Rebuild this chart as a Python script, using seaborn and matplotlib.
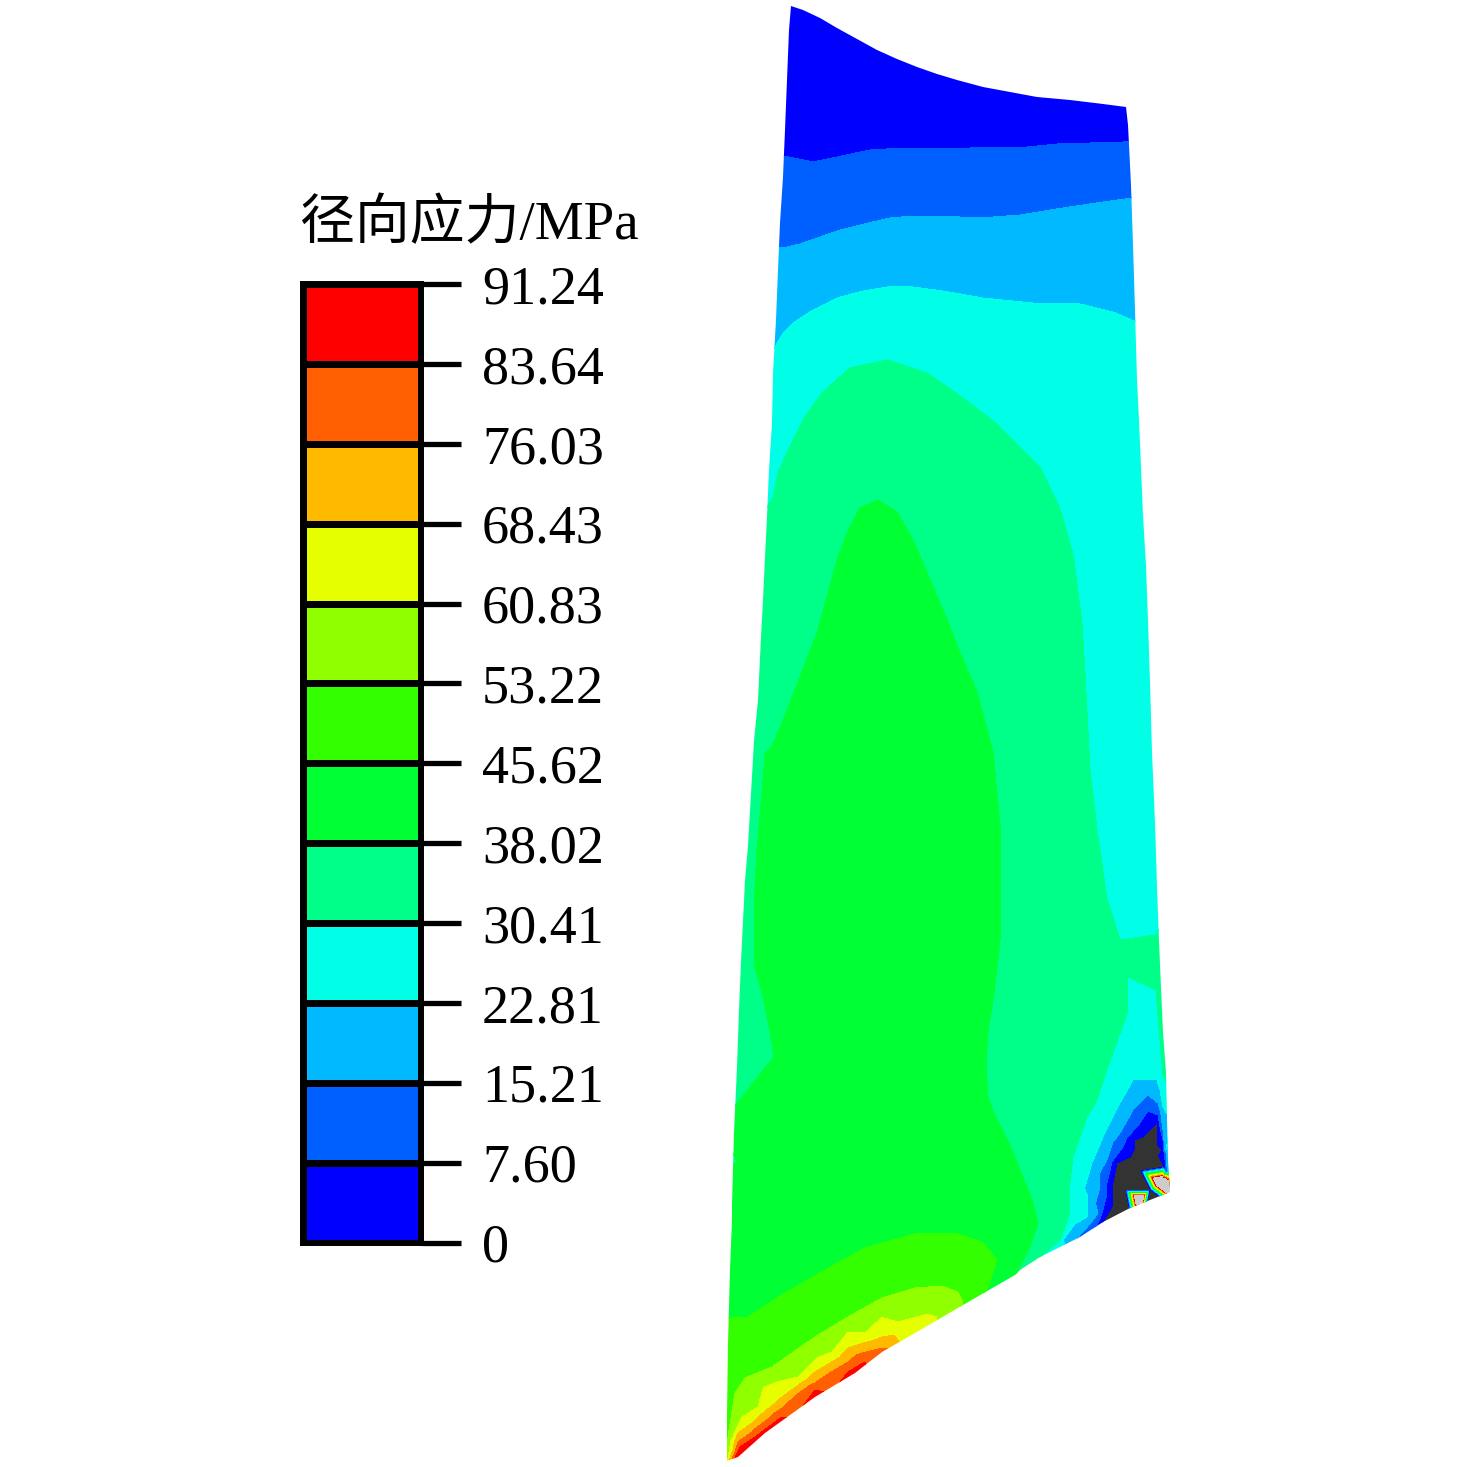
import numpy as np
import pandas as pd
import matplotlib
matplotlib.use("Agg")
import matplotlib.pyplot as plt
from matplotlib.colors import ListedColormap
from matplotlib.patches import Polygon
import seaborn as sns

sns.set_theme(style="white")

# legend
tick_labels = ['91.24', '83.64', '76.03', '68.43', '60.83', '53.22', '45.62',
               '38.02', '30.41', '22.81', '15.21', '7.60', '0']
levels = [0, 7.60, 15.21, 22.81, 30.41, 38.02, 45.62, 53.22, 60.83, 68.43, 76.03, 83.64, 91.24]
band_colors = ['#0000FF', '#005FFF', '#00B9FF', '#00FFE6', '#00FF88', '#00FF33',
               '#33FF00', '#90FF00', '#E6FF00', '#FFBA00', '#FF5F00', '#FF0000']
under_color = '#333333'
over_color = '#CCCCCC'

# blade outline, in picture coordinates
edge_x = [791, 803, 820, 837, 857, 877, 897, 917, 937, 957, 983, 1010, 1037, 1070, 1103, 1126,
          1128, 1131, 1133, 1135, 1137, 1139, 1141, 1143, 1146, 1148, 1150, 1152, 1155, 1157,
          1159, 1161, 1163, 1166, 1168, 1170,
          1150, 1130, 1103, 1080, 1060, 1040, 1020, 1015, 963, 915, 882, 855, 815, 765, 738, 727,
          727, 728, 730, 732, 732, 734, 737, 739, 741, 743, 745, 748, 750, 752, 754, 758,
          761, 763, 765, 767, 769, 772, 773, 776, 778, 780, 783, 785, 787, 789]
edge_y = [6, 10, 18, 28, 39, 50, 59, 67, 74, 80, 87, 92, 97, 100, 104, 107,
          125, 185, 245, 310, 380, 420, 467, 515, 566, 621, 682, 752, 823, 887,
          941, 988, 1032, 1073, 1160, 1192,
          1200, 1208, 1222, 1237, 1247, 1257, 1270, 1275, 1305, 1333, 1352, 1373, 1397, 1433, 1457, 1461,
          1415, 1343, 1270, 1220, 1205, 1133, 1067, 1010, 962, 921, 881, 846, 811, 776, 741, 700,
          637, 600, 557, 517, 470, 423, 373, 320, 270, 223, 177, 130, 80, 30]

# points read along each band boundary
line_0_x = [1095, 1103, 1112, 1113, 1117, 1135, 1150, 1157, 1162, 1164, 1166]
line_0_y = [1235, 1222, 1207, 1183, 1163, 1140, 1120, 1123, 1150, 1167, 1172]
line_1_x = [775, 789, 793, 813, 837, 870, 903, 970, 1027, 1057, 1123, 1145,
            1085, 1095, 1103, 1107, 1123, 1137, 1148, 1158, 1163, 1165, 1167]
line_1_y = [155, 157, 163, 162, 157, 150, 148, 148, 147, 144, 142, 141,
            1243, 1228, 1210, 1183, 1147, 1127, 1111, 1115, 1140, 1160, 1172]
line_2_x = [770, 787, 800, 820, 837, 860, 890, 913, 960, 993, 1020, 1063, 1103, 1125, 1150,
            1070, 1080, 1098, 1100, 1107, 1120, 1133, 1148, 1158, 1163, 1166, 1168]
line_2_y = [248, 247, 244, 237, 231, 225, 218, 216, 217, 217, 215, 208, 202, 199, 195,
            1250, 1235, 1213, 1187, 1160, 1133, 1110, 1095, 1103, 1130, 1153, 1172]
line_3_x = [760, 776, 782, 793, 813, 837, 863, 893, 913, 943, 983, 1033, 1080, 1113, 1132, 1150,
            1053, 1063, 1087, 1088, 1092, 1103, 1120, 1133, 1148, 1157, 1160, 1163, 1166, 1169]
line_3_y = [372, 358, 335, 323, 310, 298, 291, 286, 287, 291, 298, 303, 304, 312, 320, 325,
            1258, 1240, 1217, 1197, 1163, 1137, 1103, 1080, 1068, 1080, 1090, 1107, 1150, 1172]
line_4_x = [745, 768, 773, 778, 787, 803, 822, 850, 887, 927, 960, 993, 1040, 1060, 1073, 1082,
            1086, 1090, 1097, 1107, 1120, 1128, 1127, 1107, 1097, 1087, 1073, 1069, 1070, 1060,
            1040, 1030, 1156, 1156, 1160, 1163]
line_4_y = [545, 527, 497, 473, 453, 420, 393, 368, 360, 373, 396, 421, 467, 509, 554, 623,
            692, 770, 830, 899, 940, 977, 1014, 1069, 1100, 1117, 1157, 1190, 1213, 1240,
            1257, 1272, 935, 990, 1040, 1075]
line_5_x = [720, 737, 738, 745, 750, 770, 774, 774, 770, 763, 754, 754, 757, 762, 765, 772, 780,
            800, 817, 828, 838, 847, 860, 878, 897, 913, 930, 950, 960, 977, 993, 1000, 1001,
            995, 988, 986, 988, 993, 1007, 1020, 1032, 1038, 1030, 1020, 1010]
line_5_y = [1125, 1134, 1164, 1200, 1202, 1139, 1118, 1057, 1032, 996, 964, 904, 850, 793, 754, 746, 728,
            677, 633, 593, 557, 533, 508, 500, 512, 540, 580, 627, 653, 692, 752, 825, 931,
            986, 1032, 1068, 1096, 1111, 1139, 1170, 1200, 1223, 1247, 1267, 1285]
line_6_x = [715, 732, 748, 782, 825, 865, 915, 955, 982, 997, 988, 975]
line_6_y = [1322, 1318, 1317, 1295, 1270, 1248, 1234, 1233, 1242, 1260, 1287, 1310]
line_7_x = [715, 728, 735, 745, 772, 815, 848, 882, 915, 942, 958, 963, 955]
line_7_y = [1450, 1437, 1393, 1378, 1367, 1337, 1317, 1298, 1288, 1286, 1292, 1302, 1320]
line_8_x = [720, 728, 733, 742, 758, 798, 832, 865, 898, 928, 937, 930]
line_8_y = [1475, 1458, 1437, 1417, 1407, 1377, 1352, 1333, 1322, 1314, 1317, 1335]
line_9_x = [725, 730, 738, 752, 782, 815, 848, 882, 915, 905]
line_9_y = [1475, 1458, 1433, 1423, 1397, 1372, 1348, 1337, 1332, 1350]
line_10_x = [728, 732, 738, 752, 782, 815, 848, 882, 890, 880]
line_10_y = [1478, 1458, 1442, 1432, 1408, 1383, 1362, 1348, 1348, 1365]
line_11_x = [732, 735, 740, 755, 782, 815, 848, 865, 855]
line_11_y = [1478, 1457, 1447, 1437, 1417, 1390, 1372, 1362, 1380]

# stress estimated between the boundaries and just outside the blade
extra_x = [680, 1210, 800, 850, 950, 1050, 1170, 740,
           790, 850, 1000, 1100, 1170, 740,
           790, 850, 1000, 1100, 1170, 735,
           790, 850, 1000, 1110, 1110, 1120, 1140, 720, 1180, 1180,
           880, 1020, 1040, 1060, 1040, 790, 710, 700,
           880, 880, 880, 800, 900, 700, 700,
           850, 940, 820, 900, 700,
           740, 760, 800, 840, 870, 1000,
           1185, 1190,
           1140, 1125, 1130, 1150, 1150, 1170, 1145, 1200, 1190,
           1161, 1167, 1140]
extra_y = [-30, -30, 30, 80, 120, 120, 70, 80,
           200, 190, 180, 170, 170, 200,
           290, 260, 255, 255, 260, 300,
           380, 330, 360, 400, 700, 900, 1000, 450, 500, 800,
           430, 600, 800, 950, 1100, 600, 700, 1000,
           550, 800, 1000, 1200, 1150, 1110, 1250,
           1285, 1260, 1350, 1305, 1380,
           1470, 1450, 1425, 1400, 1380, 1500,
           1000, 1100,
           1170, 1190, 1215, 1150, 1190, 1205, 1215, 1260, 1230,
           1183, 1187, 1199]
extra_v = [1, 1, 2, 3, 3, 3.5, 3, 3,
           12, 11, 11, 11, 11, 11,
           19, 19, 19, 19, 19, 19,
           26, 26, 26, 26, 26, 26, 26, 26, 26, 26,
           34, 34, 34, 34, 34, 34, 34, 34,
           41, 42, 42, 42, 42, 36, 42,
           49, 49, 57, 57, 49,
           88, 88, 88, 88, 84, 42,
           36, 40,
           -10, -10, -10, -10, -10, -10, -10, -10, -10,
           150, 150, 150]

# field table
frames = [pd.DataFrame({'x': extra_x, 'y': extra_y, 'stress': extra_v})]
boundaries = [(line_0_x, line_0_y), (line_1_x, line_1_y), (line_2_x, line_2_y), (line_3_x, line_3_y),
              (line_4_x, line_4_y), (line_5_x, line_5_y), (line_6_x, line_6_y), (line_7_x, line_7_y),
              (line_8_x, line_8_y), (line_9_x, line_9_y), (line_10_x, line_10_y), (line_11_x, line_11_y)]
for level, (xs, ys) in zip(levels, boundaries):
    frames.append(pd.DataFrame({'x': xs, 'y': ys, 'stress': level}))
df = pd.concat(frames, ignore_index=True).drop_duplicates(['x', 'y'])

fig = plt.figure(figsize=(14.76, 14.67), dpi=100, facecolor='white')

ax = fig.add_axes([0, 0, 1, 1])
ax.set_xlim(0, 1476)
ax.set_ylim(1467, 0)
ax.axis('off')
contour_levels = [-1000] + levels + [1000]
contour_colors = [under_color] + band_colors + [over_color]
cs = ax.tricontourf(df['x'], df['y'], df['stress'], levels=contour_levels,
                    colors=contour_colors, antialiased=False)
cs.set_clip_path(Polygon(np.column_stack([edge_x, edge_y]), closed=True, transform=ax.transData))

# colour legend
cax = fig.add_axes([303 / 1476, 1 - 1242.5 / 1467, 118 / 1476, 958.5 / 1467])
cells = pd.DataFrame({'stress': np.arange(12)[::-1]})
sns.heatmap(cells, ax=cax, cmap=ListedColormap(band_colors), cbar=False, vmin=-0.5, vmax=11.5,
            linewidths=3.8, linecolor='black', xticklabels=False, yticklabels=False)
for spine in cax.spines.values():
    spine.set_visible(True)
    spine.set_color('black')
    spine.set_linewidth(4.3)
cax.yaxis.tick_right()
cax.set_yticks(np.arange(13))
cax.set_yticklabels(tick_labels, family='Liberation Serif', fontsize=39, rotation=0, color='black')
cax.tick_params(axis='y', right=True, left=False, length=29, width=3.8, color='black', pad=15)

fig.text(300 / 1476, 1 - 239 / 1467, '径向应力/MPa', fontsize=39.5, color='black',
         family=['Liberation Serif', 'Noto Sans CJK SC'], ha='left', va='baseline')

plt.savefig('out.png', dpi=100)
